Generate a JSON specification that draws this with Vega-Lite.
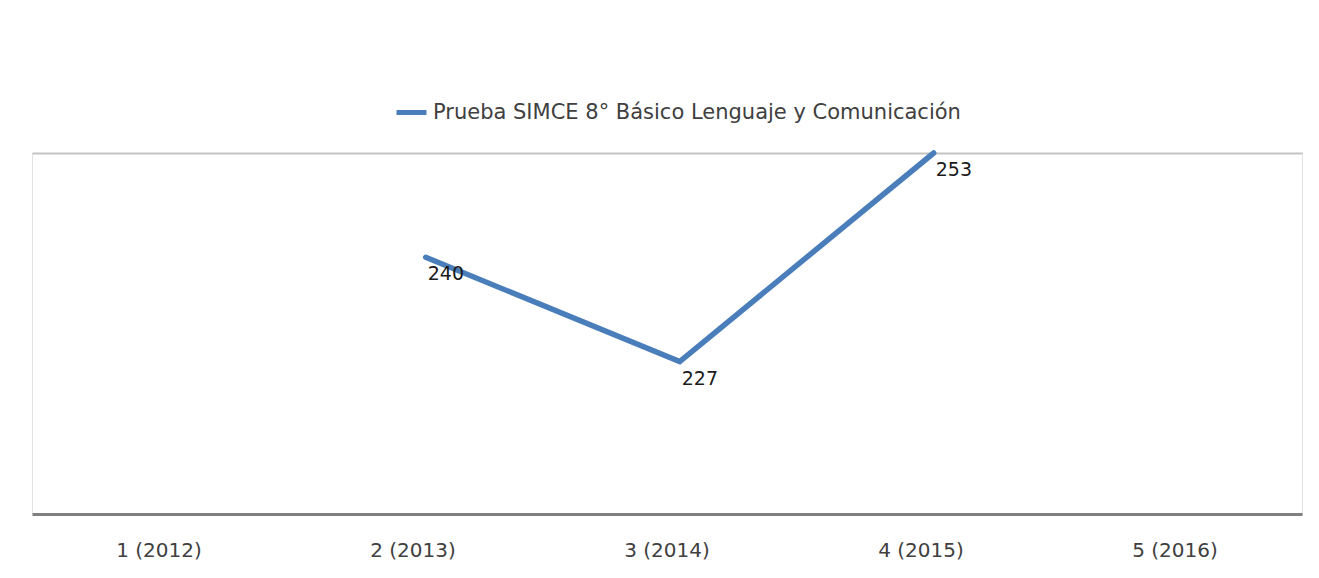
{
  "$schema": "https://vega.github.io/schema/vega-lite/v6.json",
  "width": 1270,
  "height": 361,
  "autosize": {"type": "none"},
  "padding": {"left": 32, "top": 153, "right": 17, "bottom": 64},
  "background": "white",
  "config": {
    "view": {"stroke": "#e3e3e3", "strokeWidth": 1},
    "font": "DejaVu Sans"
  },
  "data": {
    "values": [
      {"periodo": "2 (2013)", "puntaje": 240, "serie": "Prueba SIMCE 8° Básico Lenguaje y Comunicación"},
      {"periodo": "3 (2014)", "puntaje": 227, "serie": "Prueba SIMCE 8° Básico Lenguaje y Comunicación"},
      {"periodo": "4 (2015)", "puntaje": 253, "serie": "Prueba SIMCE 8° Básico Lenguaje y Comunicación"}
    ]
  },
  "resolve": {"axis": {"x": "independent"}},
  "layer": [
    {
      "mark": {"type": "line", "strokeWidth": 5.5, "strokeCap": "round", "clip": false},
      "encoding": {
        "x": {
          "field": "periodo", "type": "nominal", "sort": null,
          "bandPosition": 0.55,
          "scale": {"type": "band", "domain": ["1 (2012)", "2 (2013)", "3 (2014)", "4 (2015)", "5 (2016)"], "paddingInner": 0, "paddingOuter": 0},
          "axis": {"orient": "bottom", "title": null, "ticks": false, "labelAngle": 0, "labelPadding": 26, "labelFontSize": 20, "labelColor": "#404040", "domainColor": "#808080", "domainWidth": 3, "grid": false}
        },
        "y": {
          "field": "puntaje", "type": "quantitative",
          "scale": {"domain": [208, 253], "zero": false, "nice": false},
          "axis": null
        },
        "color": {
          "field": "serie", "type": "nominal",
          "scale": {"range": ["#4A7EBB"]},
          "legend": {"title": null, "orient": "none", "legendX": 362, "legendY": -58, "padding": 0, "symbolType": "stroke", "symbolStrokeWidth": 5, "symbolSize": 900, "labelFontSize": 21, "labelColor": "#404040", "labelOffset": 4, "labelLimit": 0}
        }
      }
    },
    {
      "mark": {"type": "text", "align": "left", "baseline": "middle", "dx": 2, "dy": 17, "fontSize": 19, "color": "#1a1a1a"},
      "encoding": {
        "x": {
          "field": "periodo", "type": "nominal", "sort": null,
          "bandPosition": 0.55,
          "axis": {"orient": "top", "title": null, "labels": false, "ticks": false, "domainColor": "#c3c3c3", "domainWidth": 2, "grid": false}
        },
        "y": {"field": "puntaje", "type": "quantitative"},
        "text": {"field": "puntaje", "type": "quantitative"}
      }
    }
  ]
}
